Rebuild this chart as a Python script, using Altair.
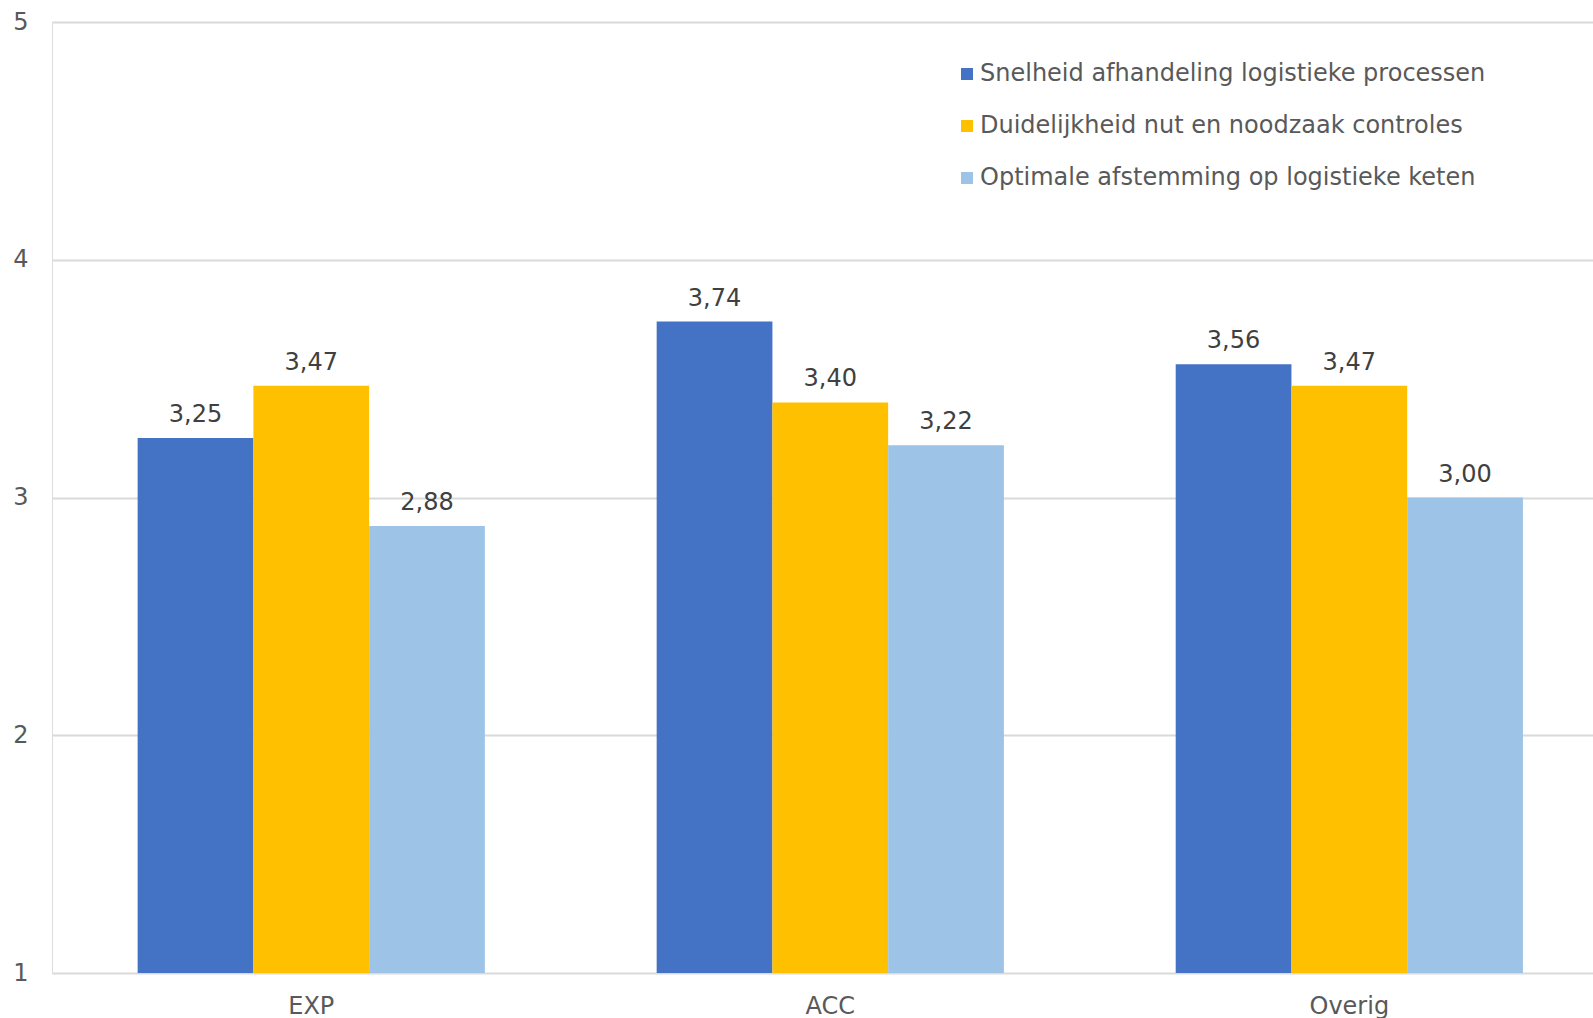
import altair as alt
import pandas as pd

categories = ["EXP", "ACC", "Overig"]
series = [
    "Snelheid afhandeling logistieke processen",
    "Duidelijkheid nut en noodzaak controles",
    "Optimale afstemming op logistieke keten",
]
snelheid = [3.25, 3.74, 3.56]
duidelijkheid = [3.47, 3.40, 3.47]
afstemming = [2.88, 3.22, 3.00]
colors = ["#4472C4", "#FFC000", "#9DC3E6"]
y_ticks = [1, 2, 3, 4, 5]

rows = []
for i, c in enumerate(categories):
    for s, vals in zip(series, [snelheid, duidelijkheid, afstemming]):
        rows.append({"cat": c, "serie": s, "value": vals[i],
                     "label": f"{vals[i]:.2f}".replace(".", ",")})
df = pd.DataFrame(rows)

FONT = "DejaVu Sans"
FS = 24

x = alt.X("cat:N", sort=categories,
          scale=alt.Scale(paddingInner=0.331, paddingOuter=0.15, align=0.55),
          axis=alt.Axis(title=None, labelAngle=0, domain=False, ticks=False,
                        labelFontSize=FS, labelColor="#595959", labelPadding=21,
                        labelFont=FONT))
xo = alt.XOffset("serie:N", sort=series,
                 scale=alt.Scale(paddingInner=0, paddingOuter=0))
y = alt.Y("value:Q", scale=alt.Scale(domain=[1, 5], zero=False, nice=False),
          axis=alt.Axis(values=y_ticks, format="d", title=None, domain=False,
                        ticks=False, gridColor="#D9D9D9", gridWidth=2,
                        labelFontSize=FS, labelColor="#595959", labelPadding=24,
                        labelFont=FONT))
color = alt.Color("serie:N", sort=series,
                  scale=alt.Scale(domain=series, range=colors),
                  legend=alt.Legend(title=None, orient="none", legendX=903, legendY=40,
                                    symbolType="square", symbolSize=144,
                                    symbolStrokeWidth=0, labelFontSize=FS,
                                    labelColor="#595959", labelFont=FONT,
                                    rowPadding=28, labelOffset=1, padding=0,
                                    labelLimit=800))

bars = alt.Chart(df).mark_bar().encode(
    x=x, xOffset=xo, y=y, y2=alt.datum(1), color=color)

text = alt.Chart(df).mark_text(
    dy=-16, baseline="alphabetic", fontSize=FS, color="#404040", font=FONT
).encode(
    x=alt.X("cat:N", sort=categories),
    xOffset=alt.XOffset("serie:N", sort=series),
    y=alt.Y("value:Q"),
    text="label:N")

chart = alt.layer(bars, text).properties(
    width=1541, height=951,
    autosize=alt.AutoSizeParams(type="none"),
    padding={"left": 52, "top": 22, "right": 0, "bottom": 45},
).configure_view(stroke=None).configure(font=FONT)

chart.save("out.html", embed_options={"renderer": "svg", "actions": False})
